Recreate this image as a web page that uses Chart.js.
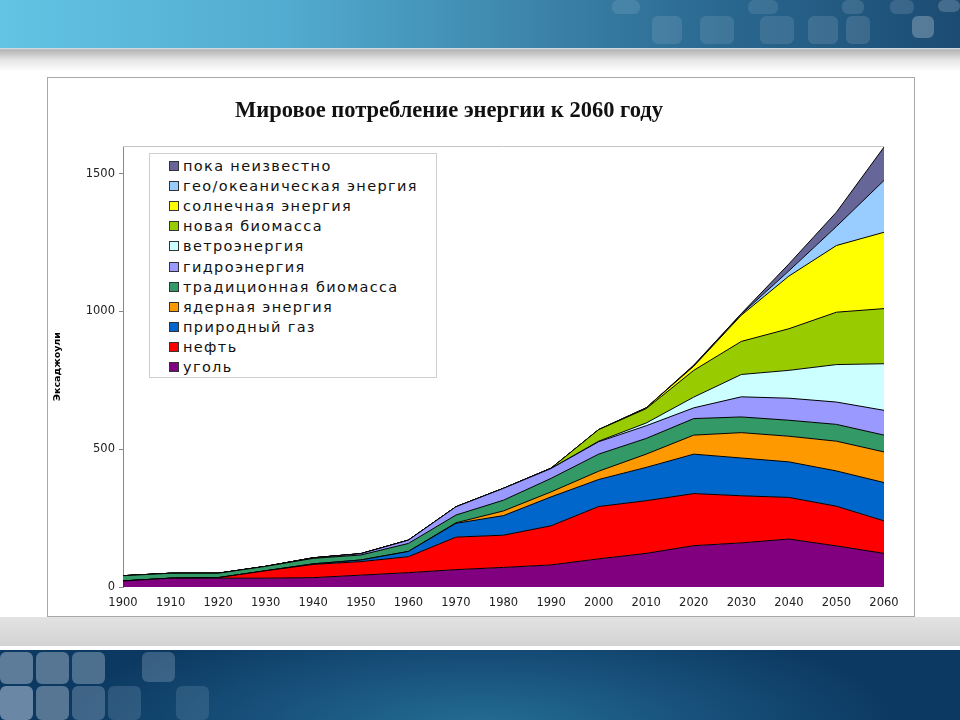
<!DOCTYPE html>
<html lang="ru">
  <head>
    <meta charset="UTF-8" />
    <script src="https://cdn.jsdelivr.net/npm/chart.js"></script>
    <title>Мировое потребление энергии</title>
    <style>
      body { margin: 0; width: 960px; height: 720px; overflow: hidden; background: #fff; position: relative; }
      #top-band {
        position: absolute; left: 0; top: 0; width: 960px; height: 48px;
        background: linear-gradient(to right, #63c4e4 0%, #52abd0 30%, #3d85aa 55%, #2a6890 75%, #1b4b73 100%);
      }
      #top-shadow {
        position: absolute; left: 0; top: 48px; width: 960px; height: 24px;
        background: linear-gradient(to bottom, #d6e6ee 0px, #b4b4b4 2px, #e6e6e6 12px, #ffffff 24px);
      }
      #bottom-gray {
        position: absolute; left: 0; top: 617px; width: 960px; height: 29px;
        background: linear-gradient(to bottom, #e2e2e2, #d4d4d4);
      }
      #bottom-band {
        position: absolute; left: 0; top: 650px; width: 960px; height: 70px;
        background: radial-gradient(ellipse 420px 120px at 480px 80px, #256f93 0%, #17507a 55%, #0c3961 100%);
      }
      .tile { position: absolute; border-radius: 6px; }
      #chart-box {
        position: absolute; left: 47px; top: 77px; width: 866px; height: 538px;
        border: 1px solid #a8a8a8; background: #fff;
      }
      #chart-box canvas { position: absolute; left: 0; top: 0; }
      #chart-title {
        position: absolute; left: 0; top: 19px; width: 802px; text-align: center;
        font-family: "Liberation Serif", serif; font-weight: bold; font-size: 22.5px; color: #111;
        white-space: nowrap;
      }
      #legend {
        position: absolute; left: 101px; top: 75px; width: 286px; height: 223px;
        border: 1px solid #cfcfcf; background: #fff;
        font-family: "DejaVu Sans", sans-serif; font-size: 14.5px; letter-spacing: 1.35px; color: #111;
      }
      .legend-item { position: absolute; left: 19px; height: 20px; line-height: 20px; white-space: nowrap; }
      .legend-box {
        display: inline-block; width: 8px; height: 8px; border: 1px solid #333;
        margin-right: 4px; vertical-align: 0px;
      }
    </style>
  </head>
  <body>
    <div id="top-band"></div>
    <div id="top-shadow"></div>
    <div id="bottom-gray"></div>
    <div id="bottom-band"></div>
    <div id="chart-box">
      <canvas id="chart" width="866" height="538"></canvas>
      <div id="chart-title">Мировое потребление энергии к 2060 году</div>
      <div id="legend"></div>
    </div>
    <script>
      const years = ['1900', '1910', '1920', '1930', '1940', '1950', '1960', '1970', '1980',
                     '1990', '2000', '2010', '2020', '2030', '2040', '2050', '2060'];
      const yTicks = [0, 500, 1000, 1500];

      // bottom of the stack first
      const coal       = [22, 32, 32, 32, 34, 43, 52, 63, 71, 80, 102, 122, 150, 160, 174, 149, 122];
      const oil        = [0, 0, 2, 27, 48, 49, 58, 118, 117, 142, 190, 191, 189, 171, 151, 144, 118];
      const gas        = [0, 0, 0, 0, 2, 6, 19, 50, 71, 105, 98, 121, 143, 137, 129, 128, 139];
      const nuclear    = [0, 0, 0, 0, 0, 0, 0, 2, 17, 18, 30, 48, 69, 92, 93, 108, 111];
      const tradBio    = [19, 18, 16, 16, 20, 18, 29, 28, 39, 49, 62, 57, 60, 57, 58, 61, 61];
      const hydro      = [0, 0, 0, 0, 2, 5, 12, 30, 43, 36, 45, 46, 39, 73, 80, 81, 90];
      const wind       = [0, 0, 0, 0, 0, 0, 0, 0, 0, 0, 2, 10, 39, 81, 101, 136, 169];
      const newBio     = [0, 0, 0, 0, 0, 0, 0, 0, 0, 1, 42, 52, 97, 120, 151, 190, 200];
      const solar      = [0, 0, 0, 0, 0, 0, 0, 0, 0, 0, 0, 3, 15, 95, 191, 242, 277];
      const geoOcean   = [0, 0, 0, 0, 0, 0, 0, 0, 0, 0, 0, 0, 2, 4, 19, 69, 188];
      const unknown    = [0, 0, 0, 0, 0, 0, 0, 0, 0, 0, 0, 0, 2, 2, 25, 52, 121];

      const seriesNames = ['уголь', 'нефть', 'природный газ', 'ядерная энергия', 'традиционная биомасса',
                           'гидроэнергия', 'ветроэнергия', 'новая биомасса', 'солнечная энергия',
                           'гео/океаническая энергия', 'пока неизвестно'];
      const seriesData = [coal, oil, gas, nuclear, tradBio, hydro, wind, newBio, solar, geoOcean, unknown];
      const seriesColors = ['#800080', '#ff0000', '#0066cc', '#ff9900', '#339966',
                            '#9999ff', '#ccffff', '#99cc00', '#ffff00', '#99ccff', '#666699'];

      // decorative tiles of the slide template
      const tiles = [
        [0, 652, 33, 32, 'rgba(160,180,200,0.55)'], [36, 652, 33, 32, 'rgba(160,180,200,0.5)'],
        [72, 652, 33, 32, 'rgba(160,180,200,0.45)'], [142, 652, 33, 30, 'rgba(140,165,190,0.35)'],
        [0, 686, 33, 34, 'rgba(170,190,210,0.6)'], [36, 686, 33, 34, 'rgba(160,180,200,0.5)'],
        [72, 686, 33, 34, 'rgba(140,165,190,0.4)'], [108, 686, 33, 34, 'rgba(120,150,180,0.3)'],
        [176, 686, 33, 34, 'rgba(120,150,180,0.25)'],
        [612, 0, 28, 14, 'rgba(255,255,255,0.1)'], [652, 16, 30, 28, 'rgba(255,255,255,0.1)'],
        [700, 16, 34, 28, 'rgba(255,255,255,0.1)'], [748, 0, 30, 14, 'rgba(255,255,255,0.1)'],
        [760, 16, 34, 28, 'rgba(255,255,255,0.1)'], [808, 16, 30, 28, 'rgba(255,255,255,0.12)'],
        [842, 0, 22, 14, 'rgba(255,255,255,0.12)'], [846, 16, 24, 28, 'rgba(255,255,255,0.12)'],
        [890, 0, 24, 14, 'rgba(255,255,255,0.12)'], [912, 16, 22, 22, 'rgba(255,255,255,0.25)'],
        [938, 0, 22, 12, 'rgba(255,255,255,0.18)']
      ];
      tiles.forEach(t => {
        const d = document.createElement('div');
        d.className = 'tile';
        d.style.left = t[0] + 'px';
        d.style.top = t[1] + 'px';
        d.style.width = t[2] + 'px';
        d.style.height = t[3] + 'px';
        d.style.background = t[4];
        document.body.appendChild(d);
      });

      const datasets = seriesData.map((values, i) => ({
        label: seriesNames[i],
        data: values,
        backgroundColor: seriesColors[i],
        borderColor: '#000',
        borderWidth: 1,
        pointRadius: 0,
        tension: 0,
        fill: i === 0 ? 'origin' : '-1'
      }));

      // light line on top of the plot area, like the Excel plot border
      const plotFrame = {
        id: 'plotFrame',
        beforeDatasetsDraw(chart) {
          const a = chart.chartArea;
          const ctx = chart.ctx;
          ctx.save();
          ctx.strokeStyle = '#c4c4c4';
          ctx.lineWidth = 1;
          ctx.beginPath();
          ctx.moveTo(a.left, a.top + 0.5);
          ctx.lineTo(a.right, a.top + 0.5);
          ctx.stroke();
          ctx.restore();
        }
      };

      new Chart(document.getElementById('chart'), {
        type: 'line',
        data: { labels: years, datasets: datasets },
        plugins: [plotFrame],
        options: {
          responsive: false,
          animation: false,
          layout: { padding: { left: 0, right: 30, top: 68, bottom: 0 } },
          scales: {
            x: {
              grid: { display: false },
              border: { display: false },
              ticks: { color: '#222', font: { family: 'DejaVu Sans', size: 11.5 }, maxRotation: 0, autoSkip: false, padding: 1 },
              afterFit: scale => { scale.height = 29; }
            },
            y: {
              stacked: true,
              min: 0,
              max: 1600,
              grid: { drawOnChartArea: false, drawTicks: true, tickLength: 4, color: '#888' },
              border: { display: true, color: '#888' },
              ticks: {
                color: '#222',
                font: { family: 'DejaVu Sans', size: 11.5 },
                padding: 4,
                callback: v => String(v)
              },
              afterBuildTicks: scale => { scale.ticks = yTicks.map(v => ({ value: v })); },
              title: {
                display: true,
                text: 'Эксаджоули',
                color: '#000',
                font: { family: 'DejaVu Sans', size: 9.5, weight: 'bold' },
                padding: { top: 4, bottom: 0 }
              },
              afterFit: scale => { scale.width = 75; }
            }
          },
          plugins: {
            legend: { display: false },
            tooltip: { enabled: false }
          }
        }
      });

      // legend box inside the plot, top entry = top of the stack
      const legend = document.getElementById('legend');
      for (let i = seriesNames.length - 1, row = 0; i >= 0; i--, row++) {
        const item = document.createElement('div');
        item.className = 'legend-item';
        item.style.top = (2 + row * 20.1) + 'px';
        const box = document.createElement('span');
        box.className = 'legend-box';
        box.style.background = seriesColors[i];
        item.appendChild(box);
        item.appendChild(document.createTextNode(seriesNames[i]));
        legend.appendChild(item);
      }
    </script>
  </body>
</html>
